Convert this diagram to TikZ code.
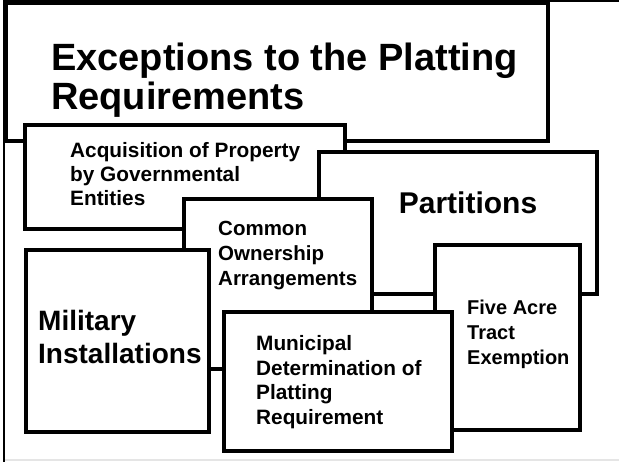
\documentclass[tikz,border=0pt]{standalone}
\usepackage{fontspec}
\setmainfont{Liberation Sans}
\usetikzlibrary{positioning}

\tikzset{
    panel/.style={rectangle, draw=black, line width=4pt, fill=white, inner sep=0pt, anchor=north west},
    paneltext/.style={align=left, anchor=west, inner sep=0pt, font=\bfseries},
}

\begin{document}
\begin{tikzpicture}[x=1pt, y=-1pt]
    \useasboundingbox (0,0) rectangle (619,462);
    \fill[white] (0,0) rectangle (619,462);

    % Slide frame
    \draw[gray!20, line width=2pt] (4,460) -- (619,460);
    \draw[black, line width=2.5pt] (4,462) -- (4,1) -- (619,1);

    % Title
    \node[panel, minimum width=542pt, minimum height=138pt] (title) at (4,1) {};
    \node[paneltext, font=\fontsize{38}{39}\selectfont\bfseries] (titletext) at (51,80)
        {Exceptions to the Platting\\Requirements};

    % Exception boxes, back to front
    \node[panel, minimum width=320pt, minimum height=104pt] (acq) at (23,123) {};
    \node[paneltext, font=\fontsize{20.8}{24}\selectfont\bfseries] (acqtext) at (70,174)
        {Acquisition of Property\\by Governmental\\Entities};

    \node[panel, minimum width=278pt, minimum height=142pt] (part) at (317,150) {};
    \node[paneltext, anchor=center, font=\fontsize{30}{34}\selectfont\bfseries] (parttext) at (468,203)
        {Partitions};

    \node[panel, minimum width=188pt, minimum height=170pt] (comm) at (182,197) {};
    \node[paneltext, font=\fontsize{20.5}{25}\selectfont\bfseries] (commtext) at (218,256)
        {Common\\Ownership\\Arrangements};

    \node[panel, minimum width=183pt, minimum height=182pt] (mil) at (24,248) {};
    \node[paneltext, font=\fontsize{28}{33}\selectfont\bfseries] (miltext) at (38,337)
        {Military\\Installations};

    \node[panel, minimum width=145pt, minimum height=185pt] (five) at (433,243) {};
    \node[paneltext, font=\fontsize{20}{25}\selectfont\bfseries] (fivetext) at (467,334)
        {Five Acre\\Tract\\Exemption};

    \node[panel, minimum width=228pt, minimum height=139pt] (muni) at (222,310) {};
    \node[paneltext, font=\fontsize{20.8}{24.5}\selectfont\bfseries] (munitext) at (256,382)
        {Municipal\\Determination of\\Platting\\Requirement};
\end{tikzpicture}
\end{document}
